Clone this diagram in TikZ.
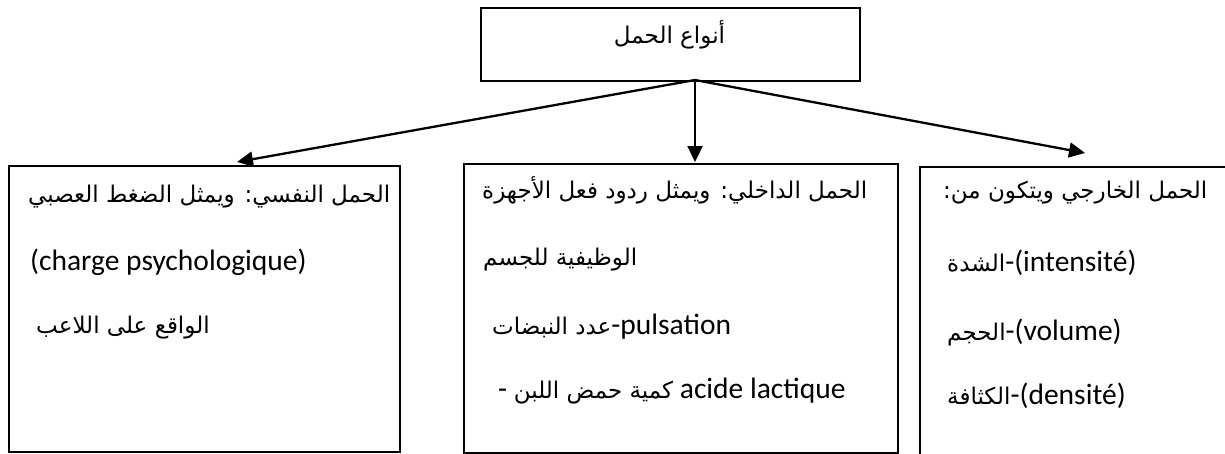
\documentclass[tikz,border=0pt]{standalone}
\usepackage{fontspec}
\setmainfont{Carlito}
\newfontfamily\arfont[Script=Arabic]{DejaVu Sans}
\TeXXeTstate=1
\usetikzlibrary{arrows.meta}
\newcommand{\AR}[1]{{\arfont\fontsize{23}{27}\selectfont\beginR #1\endR}}
\begin{document}
\begin{tikzpicture}[x=1pt,y=-1pt,
  box/.style={draw, line width=1.5pt, rectangle, anchor=north west, inner sep=0pt},
  txt/.style={anchor=base west, inner sep=0pt, font=\fontsize{29.5}{34}\selectfont},
  arr/.style={line width=2.3pt, -{Triangle[length=16pt,width=15pt]}}]
\fill[white] (0,0) rectangle (1225,453);
\useasboundingbox (0,0) rectangle (1225,453);
\clip (0,0) rectangle (1225,453);
% boxes
\node[box, minimum width=379pt, minimum height=73pt] (top) at (480,7) {};
\node[box, minimum width=391pt, minimum height=286pt] (psy) at (8,165) {};
\node[box, minimum width=434pt, minimum height=289pt] (int) at (463,163) {};
\node[box, minimum width=400pt, minimum height=400pt] (ext) at (919,166) {};
% title
\node[txt, anchor=base] (title) at (669.5,43) {\AR{أنواع الحمل}};
% left box
\node[txt] (p1) at (28,202) {\AR{الحمل النفسي: ويمثل الضغط العصبي}};
\node[txt] (p2) at (30,270) {(charge psychologique)};
\node[txt] (p3) at (36,333) {\AR{الواقع على اللاعب}};
% middle box
\node[txt] (i1) at (482,198) {\AR{الحمل الداخلي: ويمثل ردود فعل الأجهزة}};
\node[txt] (i2) at (483,265) {\AR{الوظيفية للجسم}};
\node[txt] (i3) at (492,334) {\AR{عدد النبضات}-pulsation};
\node[txt] (i4) at (498,398) {- \AR{كمية حمض اللبن} acide lactique};
% right box
\node[txt] (e1) at (943,198) {\AR{الحمل الخارجي ويتكون من:}};
\node[txt] (e2) at (947,271) {\AR{الشدة}-(intensité)};
\node[txt] (e3) at (947,340) {\AR{الحجم}-(volume)};
\node[txt] (e4) at (947,404) {\AR{الكثافة}-(densité)};
% connectors
\coordinate (src) at (695,80);
\coordinate (tl) at (237,162);
\coordinate (tm) at (695,162);
\coordinate (tr) at (1085,153);
\draw[arr] (src) -- (tl);
\draw[arr] (src) -- (tm);
\draw[arr] (src) -- (tr);
\end{tikzpicture}
\end{document}
